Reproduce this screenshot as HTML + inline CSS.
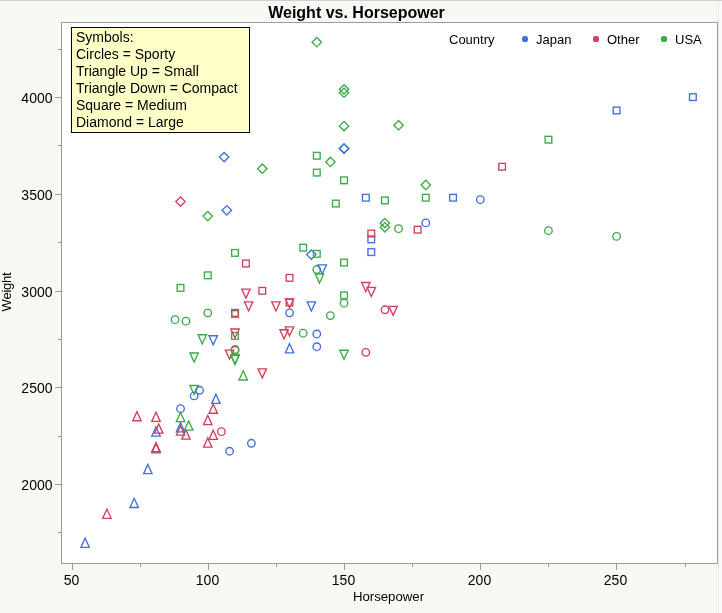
<!DOCTYPE html>
<html><head><meta charset="utf-8"><title>Weight vs. Horsepower</title>
<style>
html,body{margin:0;padding:0}
body{-webkit-font-smoothing:antialiased;will-change:transform;width:722px;height:613px;background:#f7f7f3;position:relative;overflow:hidden;font-family:"Liberation Sans",sans-serif;color:#000}
.topline{position:absolute;left:0;top:0;width:722px;height:1px;background:#cfcfcf}
.rstrip{position:absolute;left:718px;top:1px;width:3px;height:612px;background:#fafafa;border-left:1px solid #e9e9e9}
.plot{position:absolute;left:61px;top:22px;width:655px;height:540px;background:#fff;border:1px solid #9c9c9c;box-sizing:content-box}
.title{position:absolute;left:0;width:713px;top:4px;text-align:center;font-weight:bold;font-size:16px;line-height:18px;letter-spacing:0px}
.xl{position:absolute;top:572px;width:40px;text-align:center;font-size:14px;line-height:16px}
.yl{position:absolute;left:0;width:52.5px;text-align:right;font-size:14px;line-height:16px}
.xt{position:absolute;left:288.5px;width:200px;text-align:center;top:589px;font-size:13.2px;line-height:16px}
.yt{letter-spacing:-0.25px;position:absolute;left:-43.5px;top:284px;width:100px;height:16px;text-align:center;font-size:13px;line-height:16px;transform:rotate(-90deg)}
.box{position:absolute;left:71px;top:27px;width:179px;height:106px;border:1px solid #000;background:#ffffc8;font-size:14px;line-height:17px;padding:1px 0 0 4px;box-sizing:border-box;white-space:nowrap}
.lg{position:absolute;top:32px;font-size:13px;line-height:16px;white-space:nowrap}
.dot{position:absolute;top:36.4px;width:5.2px;height:5.2px;border-radius:50%}
svg{position:absolute;left:0;top:0}
svg circle,svg rect,svg path{fill:none;stroke-width:1.35;stroke-linejoin:miter}
</style></head><body>
<div class="topline"></div><div class="rstrip"></div>
<div class="title">Weight vs. Horsepower</div>
<div class="plot"></div>
<svg width="722" height="613" viewBox="0 0 722 613">
<line x1="72.5" y1="564" x2="72.5" y2="570" stroke="#9c9c9c" stroke-width="1"/>
<line x1="140.5" y1="564" x2="140.5" y2="567" stroke="#9c9c9c" stroke-width="1"/>
<line x1="208.5" y1="564" x2="208.5" y2="570" stroke="#9c9c9c" stroke-width="1"/>
<line x1="276.5" y1="564" x2="276.5" y2="567" stroke="#9c9c9c" stroke-width="1"/>
<line x1="344.5" y1="564" x2="344.5" y2="570" stroke="#9c9c9c" stroke-width="1"/>
<line x1="412.5" y1="564" x2="412.5" y2="567" stroke="#9c9c9c" stroke-width="1"/>
<line x1="480.5" y1="564" x2="480.5" y2="570" stroke="#9c9c9c" stroke-width="1"/>
<line x1="548.5" y1="564" x2="548.5" y2="567" stroke="#9c9c9c" stroke-width="1"/>
<line x1="616.5" y1="564" x2="616.5" y2="570" stroke="#9c9c9c" stroke-width="1"/>
<line x1="685.5" y1="564" x2="685.5" y2="567" stroke="#9c9c9c" stroke-width="1"/>
<line x1="58" y1="532.5" x2="61" y2="532.5" stroke="#9c9c9c" stroke-width="1"/>
<line x1="55" y1="484.5" x2="61" y2="484.5" stroke="#9c9c9c" stroke-width="1"/>
<line x1="58" y1="436.5" x2="61" y2="436.5" stroke="#9c9c9c" stroke-width="1"/>
<line x1="55" y1="387.5" x2="61" y2="387.5" stroke="#9c9c9c" stroke-width="1"/>
<line x1="58" y1="339.5" x2="61" y2="339.5" stroke="#9c9c9c" stroke-width="1"/>
<line x1="55" y1="291.5" x2="61" y2="291.5" stroke="#9c9c9c" stroke-width="1"/>
<line x1="58" y1="242.5" x2="61" y2="242.5" stroke="#9c9c9c" stroke-width="1"/>
<line x1="55" y1="194.5" x2="61" y2="194.5" stroke="#9c9c9c" stroke-width="1"/>
<line x1="58" y1="145.5" x2="61" y2="145.5" stroke="#9c9c9c" stroke-width="1"/>
<line x1="55" y1="97.5" x2="61" y2="97.5" stroke="#9c9c9c" stroke-width="1"/>
<line x1="58" y1="49.5" x2="61" y2="49.5" stroke="#9c9c9c" stroke-width="1"/>
<path d="M229.58 359.12L233.78 350.07L225.38 350.07Z" stroke="#d2405d"/>
<rect x="367.94" y="235.99" width="6.7" height="6.7" stroke="#4170e0"/>
<circle cx="235.03" cy="350.21" r="3.75" stroke="#d2405d"/>
<path d="M155.99 426.93L160.19 436.08L151.79 436.08Z" stroke="#4170e0"/>
<path d="M180.52 425.96L184.72 435.11L176.32 435.11Z" stroke="#d2405d"/>
<path d="M185.97 430.03L190.17 439.18L181.77 439.18Z" stroke="#d2405d"/>
<path d="M316.79 37.46L321.49 42.16L316.79 46.86L312.09 42.16Z" stroke="#3daa47"/>
<path d="M344.04 84.67L348.74 89.37L344.04 94.07L339.34 89.37Z" stroke="#3daa47"/>
<path d="M344.04 87.96L348.74 92.66L344.04 97.36L339.34 92.66Z" stroke="#3daa47"/>
<path d="M344.04 121.44L348.74 126.14L344.04 130.84L339.34 126.14Z" stroke="#3daa47"/>
<path d="M398.55 120.47L403.25 125.17L398.55 129.87L393.85 125.17Z" stroke="#3daa47"/>
<path d="M344.04 143.88L348.74 148.58L344.04 153.28L339.34 148.58Z" stroke="#3daa47"/>
<path d="M344.04 143.88L348.74 148.58L344.04 153.28L339.34 148.58Z" stroke="#4170e0"/>
<path d="M330.41 157.24L335.11 161.94L330.41 166.64L325.71 161.94Z" stroke="#3daa47"/>
<path d="M224.13 152.40L228.83 157.10L224.13 161.80L219.43 157.10Z" stroke="#4170e0"/>
<path d="M262.28 164.01L266.98 168.71L262.28 173.41L257.58 168.71Z" stroke="#3daa47"/>
<path d="M180.52 196.90L185.22 201.60L180.52 206.30L175.82 201.60Z" stroke="#d2405d"/>
<path d="M207.77 211.42L212.47 216.12L207.77 220.82L203.07 216.12Z" stroke="#3daa47"/>
<path d="M226.85 205.61L231.55 210.31L226.85 215.01L222.15 210.31Z" stroke="#4170e0"/>
<path d="M425.80 180.26L430.50 184.96L425.80 189.66L421.10 184.96Z" stroke="#3daa47"/>
<path d="M384.92 218.38L389.62 223.08L384.92 227.78L380.22 223.08Z" stroke="#3daa47"/>
<path d="M384.92 222.64L389.62 227.34L384.92 232.04L380.22 227.34Z" stroke="#3daa47"/>
<path d="M311.34 249.92L316.04 254.62L311.34 259.32L306.64 254.62Z" stroke="#4170e0"/>
<rect x="689.53" y="93.76" width="6.7" height="6.7" stroke="#4170e0"/>
<rect x="613.22" y="107.11" width="6.7" height="6.7" stroke="#4170e0"/>
<rect x="545.09" y="136.33" width="6.7" height="6.7" stroke="#3daa47"/>
<rect x="498.76" y="163.42" width="6.7" height="6.7" stroke="#d2405d"/>
<rect x="422.45" y="194.38" width="6.7" height="6.7" stroke="#3daa47"/>
<rect x="449.70" y="194.38" width="6.7" height="6.7" stroke="#4170e0"/>
<rect x="414.27" y="226.31" width="6.7" height="6.7" stroke="#d2405d"/>
<rect x="313.44" y="152.39" width="6.7" height="6.7" stroke="#3daa47"/>
<rect x="313.44" y="169.23" width="6.7" height="6.7" stroke="#3daa47"/>
<rect x="340.69" y="176.97" width="6.7" height="6.7" stroke="#3daa47"/>
<rect x="362.49" y="194.38" width="6.7" height="6.7" stroke="#4170e0"/>
<rect x="381.57" y="197.09" width="6.7" height="6.7" stroke="#3daa47"/>
<rect x="332.51" y="200.19" width="6.7" height="6.7" stroke="#3daa47"/>
<rect x="367.94" y="230.18" width="6.7" height="6.7" stroke="#d2405d"/>
<rect x="367.94" y="248.76" width="6.7" height="6.7" stroke="#4170e0"/>
<rect x="299.81" y="244.31" width="6.7" height="6.7" stroke="#3daa47"/>
<rect x="313.44" y="250.50" width="6.7" height="6.7" stroke="#3daa47"/>
<rect x="231.68" y="249.53" width="6.7" height="6.7" stroke="#3daa47"/>
<rect x="242.58" y="260.17" width="6.7" height="6.7" stroke="#d2405d"/>
<rect x="204.42" y="271.98" width="6.7" height="6.7" stroke="#3daa47"/>
<rect x="177.17" y="284.55" width="6.7" height="6.7" stroke="#3daa47"/>
<rect x="286.18" y="274.49" width="6.7" height="6.7" stroke="#d2405d"/>
<rect x="258.93" y="287.46" width="6.7" height="6.7" stroke="#d2405d"/>
<rect x="340.69" y="259.21" width="6.7" height="6.7" stroke="#3daa47"/>
<rect x="340.69" y="292.10" width="6.7" height="6.7" stroke="#3daa47"/>
<rect x="286.18" y="299.26" width="6.7" height="6.7" stroke="#d2405d"/>
<rect x="231.68" y="310.68" width="6.7" height="6.7" stroke="#3daa47"/>
<rect x="231.68" y="309.52" width="6.7" height="6.7" stroke="#d2405d"/>
<rect x="231.68" y="332.54" width="6.7" height="6.7" stroke="#3daa47"/>
<circle cx="480.30" cy="199.67" r="3.75" stroke="#4170e0"/>
<circle cx="425.80" cy="222.89" r="3.75" stroke="#4170e0"/>
<circle cx="548.44" cy="230.63" r="3.75" stroke="#3daa47"/>
<circle cx="616.57" cy="236.43" r="3.75" stroke="#3daa47"/>
<circle cx="398.55" cy="228.69" r="3.75" stroke="#3daa47"/>
<circle cx="316.79" cy="269.52" r="3.75" stroke="#3daa47"/>
<circle cx="344.04" cy="303.19" r="3.75" stroke="#3daa47"/>
<circle cx="289.53" cy="312.87" r="3.75" stroke="#4170e0"/>
<circle cx="330.41" cy="315.57" r="3.75" stroke="#3daa47"/>
<circle cx="384.92" cy="309.77" r="3.75" stroke="#d2405d"/>
<circle cx="207.77" cy="312.87" r="3.75" stroke="#3daa47"/>
<circle cx="175.07" cy="319.64" r="3.75" stroke="#3daa47"/>
<circle cx="185.97" cy="321.19" r="3.75" stroke="#3daa47"/>
<circle cx="235.03" cy="349.44" r="3.75" stroke="#3daa47"/>
<circle cx="303.16" cy="333.18" r="3.75" stroke="#3daa47"/>
<circle cx="316.79" cy="333.96" r="3.75" stroke="#4170e0"/>
<circle cx="316.79" cy="346.73" r="3.75" stroke="#4170e0"/>
<circle cx="365.84" cy="352.34" r="3.75" stroke="#d2405d"/>
<circle cx="194.15" cy="395.88" r="3.75" stroke="#4170e0"/>
<circle cx="180.52" cy="408.65" r="3.75" stroke="#4170e0"/>
<circle cx="221.40" cy="431.67" r="3.75" stroke="#d2405d"/>
<circle cx="229.58" cy="451.22" r="3.75" stroke="#4170e0"/>
<circle cx="251.38" cy="443.28" r="3.75" stroke="#4170e0"/>
<path d="M245.93 298.17L250.13 289.12L241.73 289.12Z" stroke="#d2405d"/>
<path d="M248.65 310.94L252.85 301.89L244.45 301.89Z" stroke="#d2405d"/>
<path d="M275.91 310.94L280.11 301.89L271.71 301.89Z" stroke="#d2405d"/>
<path d="M289.53 307.85L293.73 298.80L285.33 298.80Z" stroke="#d2405d"/>
<path d="M311.34 310.94L315.54 301.89L307.14 301.89Z" stroke="#4170e0"/>
<path d="M322.24 273.98L326.44 264.93L318.04 264.93Z" stroke="#4170e0"/>
<path d="M319.51 283.08L323.71 274.03L315.31 274.03Z" stroke="#3daa47"/>
<path d="M365.84 291.59L370.04 282.54L361.64 282.54Z" stroke="#d2405d"/>
<path d="M371.29 296.43L375.49 287.38L367.09 287.38Z" stroke="#d2405d"/>
<path d="M393.10 315.39L397.30 306.34L388.90 306.34Z" stroke="#d2405d"/>
<path d="M289.53 335.90L293.73 326.85L285.33 326.85Z" stroke="#d2405d"/>
<path d="M284.08 338.81L288.28 329.76L279.88 329.76Z" stroke="#d2405d"/>
<path d="M235.03 338.03L239.23 328.98L230.83 328.98Z" stroke="#d2405d"/>
<path d="M202.32 343.84L206.52 334.79L198.12 334.79Z" stroke="#3daa47"/>
<path d="M213.23 344.81L217.43 335.76L209.03 335.76Z" stroke="#4170e0"/>
<path d="M235.03 363.77L239.23 354.72L230.83 354.72Z" stroke="#3daa47"/>
<path d="M235.03 364.54L239.23 355.49L230.83 355.49Z" stroke="#3daa47"/>
<path d="M194.15 362.03L198.35 352.98L189.95 352.98Z" stroke="#3daa47"/>
<path d="M344.04 359.32L348.24 350.27L339.84 350.27Z" stroke="#3daa47"/>
<path d="M262.28 377.89L266.48 368.84L258.08 368.84Z" stroke="#d2405d"/>
<path d="M194.15 394.54L198.35 385.49L189.95 385.49Z" stroke="#3daa47"/>
<path d="M289.53 343.73L293.73 352.88L285.33 352.88Z" stroke="#4170e0"/>
<path d="M243.20 370.82L247.40 379.97L239.00 379.97Z" stroke="#3daa47"/>
<path d="M215.95 394.23L220.15 403.38L211.75 403.38Z" stroke="#4170e0"/>
<path d="M213.23 404.10L217.43 413.25L209.03 413.25Z" stroke="#d2405d"/>
<path d="M136.92 411.64L141.12 420.79L132.72 420.79Z" stroke="#d2405d"/>
<path d="M155.99 412.22L160.19 421.38L151.79 421.38Z" stroke="#d2405d"/>
<path d="M180.52 412.42L184.72 421.57L176.32 421.57Z" stroke="#3daa47"/>
<path d="M207.77 415.51L211.97 424.66L203.57 424.66Z" stroke="#d2405d"/>
<path d="M188.70 420.93L192.90 430.08L184.50 430.08Z" stroke="#3daa47"/>
<path d="M180.52 422.67L184.72 431.82L176.32 431.82Z" stroke="#4170e0"/>
<path d="M158.72 424.03L162.92 433.18L154.52 433.18Z" stroke="#d2405d"/>
<path d="M213.23 430.22L217.43 439.37L209.03 439.37Z" stroke="#d2405d"/>
<path d="M207.77 437.96L211.97 447.11L203.57 447.11Z" stroke="#d2405d"/>
<path d="M155.99 442.60L160.19 451.75L151.79 451.75Z" stroke="#d2405d"/>
<path d="M155.99 443.77L160.19 452.92L151.79 452.92Z" stroke="#d2405d"/>
<path d="M147.82 464.47L152.02 473.62L143.62 473.62Z" stroke="#4170e0"/>
<path d="M134.19 498.33L138.39 507.48L129.99 507.48Z" stroke="#4170e0"/>
<path d="M106.94 509.17L111.14 518.32L102.74 518.32Z" stroke="#d2405d"/>
<path d="M85.14 538.19L89.34 547.34L80.94 547.34Z" stroke="#4170e0"/>
<circle cx="199.60" cy="390.27" r="3.75" stroke="#4170e0"/>
</svg>
<div class="box">Symbols:<br>Circles = Sporty<br>Triangle Up = Small<br>Triangle Down = Compact<br>Square = Medium<br>Diamond = Large</div>
<div class="lg" style="left:449px">Country</div>
<div class="dot" style="left:522.4px;background:#4170e0"></div><div class="lg" style="left:536px">Japan</div>
<div class="dot" style="left:593.4px;background:#d2405d"></div><div class="lg" style="left:607px">Other</div>
<div class="dot" style="left:661.4px;background:#3daa47"></div><div class="lg" style="left:675px">USA</div>
<div class="xl" style="left:51.5px">50</div><div class="xl" style="left:187.5px">100</div><div class="xl" style="left:323.5px">150</div><div class="xl" style="left:459.5px">200</div><div class="xl" style="left:595.5px">250</div><div class="yl" style="top:477.0px">2000</div><div class="yl" style="top:380.0px">2500</div><div class="yl" style="top:284.0px">3000</div><div class="yl" style="top:187.0px">3500</div><div class="yl" style="top:90.0px">4000</div>
<div class="xt">Horsepower</div>
<div class="yt">Weight</div>
</body></html>
